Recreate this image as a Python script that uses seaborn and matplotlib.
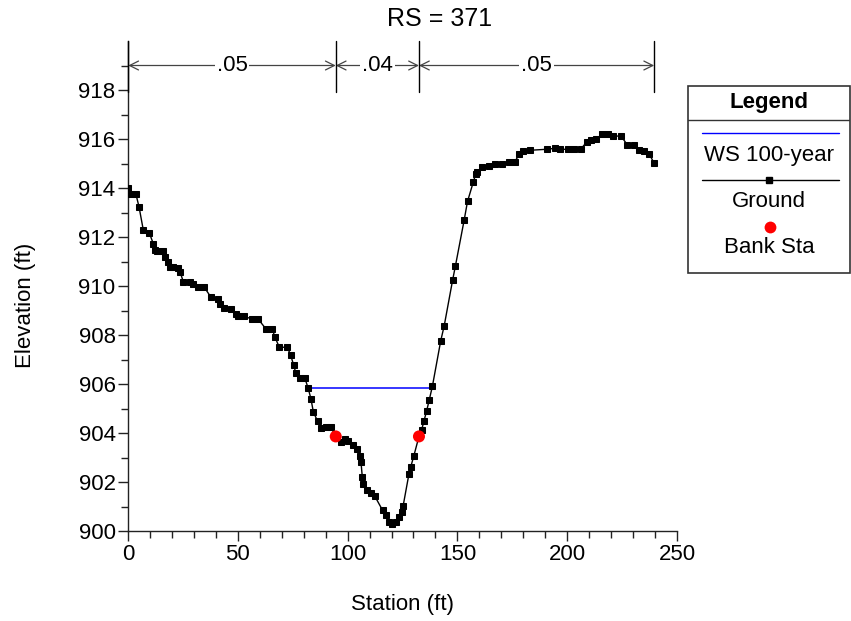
import numpy as np
import pandas as pd
import matplotlib
matplotlib.use("Agg")
import matplotlib.pyplot as plt
import seaborn as sns
from matplotlib.patches import Rectangle

# ---------------- data ----------------
station = [0.1, 1.2, 3.6, 5.0, 7.0, 9.7, 11.5, 12.3, 13.1, 16.1, 16.8, 18.0, 19.1, 20.3,
           22.9, 23.7, 25.2, 28.2, 29.5, 32.0, 34.8, 37.8, 40.8, 41.9, 43.9, 46.9, 49.0,
           50.2, 52.8, 56.3, 59.3, 62.7, 65.7, 66.9, 68.9, 72.5, 74.0, 75.4, 76.4, 78.3,
           80.5, 82.0, 83.3, 84.4, 86.4, 87.9, 90.2, 92.4, 94.6, 96.8, 98.8, 100.3, 102.6,
           104.4, 105.6, 106.1, 106.7, 107.1, 108.7, 110.6, 112.4, 115.9, 117.5, 118.8,
           120.4, 122.0, 123.5, 124.9, 125.3, 127.9, 128.8, 130.2, 132.5, 133.7, 134.8,
           136.0, 137.2, 138.6, 142.4, 144.0, 147.8, 149.1, 153.1, 154.6, 157.2, 158.3,
           159.0, 161.3, 164.3, 167.1, 170.1, 173.4, 176.2, 178.2, 180.0, 183.1, 190.6,
           194.4, 196.7, 200.5, 203.1, 206.3, 208.9, 210.9, 213.0, 215.8, 218.5, 220.7,
           224.5, 227.4, 230.6, 232.9, 235.0, 237.4, 239.6]
elevation = [914.0, 913.75, 913.75, 913.24, 912.27, 912.17, 911.73, 911.48, 911.42, 911.42,
             911.2, 911.0, 910.78, 910.78, 910.75, 910.58, 910.17, 910.17, 910.1, 909.97,
             909.94, 909.54, 909.48, 909.27, 909.1, 909.07, 908.86, 908.76, 908.76, 908.66,
             908.65, 908.26, 908.24, 907.92, 907.5, 907.5, 907.2, 906.78, 906.46, 906.25,
             906.25, 905.84, 905.4, 904.86, 904.47, 904.2, 904.23, 904.23, 903.86, 903.62,
             903.76, 903.69, 903.53, 903.35, 903.08, 902.81, 902.2, 901.93, 901.69, 901.55,
             901.42, 900.85, 900.65, 900.38, 900.28, 900.38, 900.58, 900.78, 901.03, 902.31,
             902.63, 903.08, 903.86, 904.12, 904.5, 904.9, 905.36, 905.9, 907.76, 908.38,
             910.23, 910.82, 912.7, 913.45, 914.23, 914.56, 914.66, 914.86, 914.88, 914.97,
             915.0, 915.08, 915.08, 915.38, 915.51, 915.54, 915.58, 915.62, 915.58, 915.58,
             915.58, 915.6, 915.88, 915.96, 915.98, 916.19, 916.19, 916.12, 916.12, 915.76,
             915.76, 915.55, 915.51, 915.38, 915.01]

ws_station = [82.0, 138.6]
ws_elev = [905.84, 905.84]

bank_station = [94.6, 132.5]
bank_elev = [903.86, 903.86]

n_breaks = [0.1, 94.6, 132.5, 239.6]
n_values = [".05", ".04", ".05"]

title = "RS = 371"

# ---------------- plot ----------------
sns.set_theme(style="white")
plt.rcParams['font.family'] = ['Liberation Sans', 'DejaVu Sans']
plt.rcParams['text.color'] = 'black'
plt.rcParams['axes.labelcolor'] = 'black'
plt.rcParams['xtick.color'] = 'black'
plt.rcParams['ytick.color'] = 'black'

FS = 16

fig = plt.figure(figsize=(8.51, 6.21), dpi=100)
ax = fig.add_axes([128/851, 1-531/621, (677-128)/851, (531-41)/621])

ground = pd.DataFrame({"Station": station, "Elevation": elevation})
ws = pd.DataFrame({"Station": ws_station, "Elevation": ws_elev})
bank = pd.DataFrame({"Station": bank_station, "Elevation": bank_elev})

sns.lineplot(data=ws, x="Station", y="Elevation", color="#0000ff", linewidth=1.1,
             ax=ax, sort=False, zorder=3)
sns.lineplot(data=ground, x="Station", y="Elevation", color="black", linewidth=1.0,
             marker="s", markersize=5, markeredgecolor="black", markerfacecolor="black",
             ax=ax, sort=False, zorder=4)
sns.scatterplot(data=bank, x="Station", y="Elevation", color="#ff0000", s=75,
                edgecolor="none", ax=ax, zorder=5)

ax.set_xlim(0, 250)
ax.set_ylim(900, 920)
ax.set_xticks(np.arange(0, 251, 50))
ax.set_xticks(np.arange(0, 251, 10), minor=True)
ax.set_yticks(np.arange(900, 919, 2))
ax.set_yticks(np.arange(900, 920, 1), minor=True)
ax.tick_params(axis="both", which="major", direction="out", length=7, width=1,
               color="#222222", labelsize=FS, pad=2, bottom=True, left=True)
ax.tick_params(axis="both", which="minor", direction="out", length=5, width=1,
               color="#222222", bottom=True, left=True)
for s in ["top", "right"]:
    ax.spines[s].set_visible(False)
for s in ["left", "bottom"]:
    ax.spines[s].set_color("#222222")
    ax.spines[s].set_linewidth(1)

ax.set_xlabel("Station (ft)", fontsize=FS)
ax.set_ylabel("Elevation (ft)", fontsize=FS)
ax.xaxis.set_label_coords(0.5, -0.128)
ax.yaxis.set_label_coords(-0.168, 0.46)

# Manning's n dimension lines
for b in n_breaks:
    ax.plot([b, b], [917.9, 920.0], color="black", linewidth=1.0, clip_on=False, zorder=6)
for i, lab in enumerate(n_values):
    x0, x1 = n_breaks[i], n_breaks[i + 1]
    ax.annotate("", xy=(x0, 919.0), xytext=(x1, 919.0),
                arrowprops=dict(arrowstyle="<->", color="#444444", lw=0.9,
                                shrinkA=0, shrinkB=0, mutation_scale=16),
                annotation_clip=False)
    ax.text((x0 + x1) / 2, 919.0, lab, ha="center", va="center", fontsize=FS,
            bbox=dict(facecolor="white", edgecolor="none", pad=1.5), zorder=7)

fig.text(440/851, 1-19/621, title, ha="center", va="center", fontsize=18)

# Legend box
lax = fig.add_axes([688/851, 1-273/621, (850-688)/851, (273-86)/621])
lax.set_xlim(0, 1)
lax.set_ylim(0, 1)
lax.axis("off")
lax.add_patch(Rectangle((0, 0), 1, 1, fill=False, edgecolor="#333333", lw=1.2,
                        transform=lax.transAxes, clip_on=False))
lax.plot([0, 1], [0.818, 0.818], color="#333333", lw=1)
lax.text(0.5, 0.912, "Legend", ha="center", va="center", fontsize=FS, fontweight="bold")
lax.plot([0.085, 0.93], [0.747, 0.747], color="#0000ff", lw=1)
lax.text(0.5, 0.631, "WS 100-year", ha="center", va="center", fontsize=FS)
lax.plot([0.085, 0.93], [0.497, 0.497], color="black", lw=1)
lax.plot([0.5], [0.497], marker="s", color="black", markersize=5)
lax.text(0.5, 0.381, "Ground", ha="center", va="center", fontsize=FS)
lax.plot([0.506], [0.248], marker="o", color="#ff0000", markersize=8.5, markeredgewidth=0)
lax.text(0.5, 0.134, "Bank Sta", ha="center", va="center", fontsize=FS)

fig.savefig("out.png", dpi=100)
